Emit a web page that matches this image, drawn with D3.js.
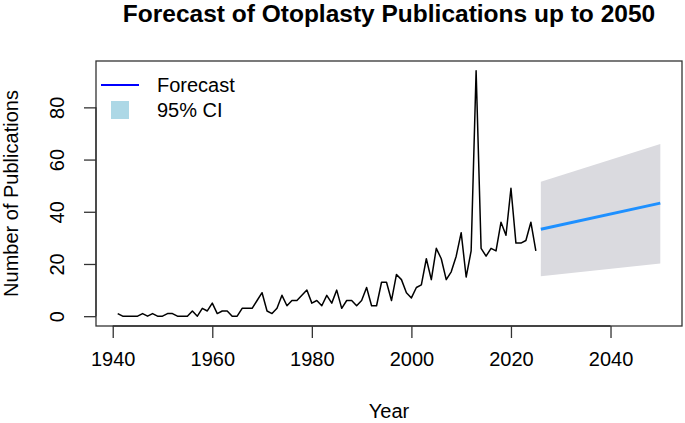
<!DOCTYPE html>
<html>
<head>
<meta charset="utf-8">
<script src="https://cdn.jsdelivr.net/npm/d3@7"></script>
<style>
  body { margin: 0; background: #fff; }
  svg text { font-family: "Liberation Sans", Arial, sans-serif; fill: #000; }
</style>
</head>
<body>
<div id="chart"></div>
<script>
// observed yearly counts
const years = d3.range(1941, 2026);
const counts = [
  1, 0, 0, 0, 0, 1, 0, 1, 0, 0,        // 1941-1950
  1, 1, 0, 0, 0, 2, 0, 3, 2, 5,        // 1951-1960
  1, 2, 2, 0, 0, 3, 3, 3, 6, 9,        // 1961-1970
  2, 1, 3, 8, 4, 6, 6, 8, 10, 5,       // 1971-1980
  6, 4, 8, 5, 10, 3, 6, 6, 4, 6,       // 1981-1990
  11, 4, 4, 13, 13, 6, 16, 14, 9, 7,   // 1991-2000
  11, 12, 22, 14, 26, 22, 14, 17, 23, 32, // 2001-2010
  15, 25, 94, 26, 23, 26, 25, 36, 31, 49, // 2011-2020
  28, 28, 29, 36, 25                   // 2021-2025
];

// forecast and 95% interval (straight lines in the picture)
const fcYears = [2026, 2050];
const fcMean = [33.3, 43.3];
const fcLower = [15.3, 20.2];
const fcUpper = [51.5, 66.0];

const xTicks = [1940, 1960, 1980, 2000, 2020, 2040];
const yTicks = [0, 20, 40, 60, 80];

const width = 685, height = 423;
const margin = { top: 61, right: 3, bottom: 97, left: 96 };
const fs = '20px';

const svg = d3.select('#chart')
  .append('svg')
  .attr('width', width)
  .attr('height', height);

const x = d3.scaleLinear()
  .domain([1936.64, 2054.36])
  .range([margin.left, width - margin.right]);

const y = d3.scaleLinear()
  .domain([-3.76, 97.76])
  .range([height - margin.bottom, margin.top]);

const obs = years.map((yr, i) => ({ yr, v: counts[i] }));
const fc = fcYears.map((yr, i) => ({ yr, m: fcMean[i], lo: fcLower[i], hi: fcUpper[i] }));

// CI band
svg.append('path')
  .datum(fc)
  .attr('fill', '#dadadf')
  .attr('d', d3.area().x(d => x(d.yr)).y0(d => y(d.lo)).y1(d => y(d.hi)));

// observed line
svg.append('path')
  .datum(obs)
  .attr('fill', 'none')
  .attr('stroke', '#000')
  .attr('stroke-width', 1.5)
  .attr('stroke-linejoin', 'round')
  .attr('d', d3.line().x(d => x(d.yr)).y(d => y(d.v)));

// forecast line
svg.append('path')
  .datum(fc)
  .attr('fill', 'none')
  .attr('stroke', '#1e90ff')
  .attr('stroke-width', 3)
  .attr('d', d3.line().x(d => x(d.yr)).y(d => y(d.m)));

// box
svg.append('rect')
  .attr('x', margin.left)
  .attr('y', margin.top)
  .attr('width', width - margin.left - margin.right)
  .attr('height', height - margin.top - margin.bottom)
  .attr('fill', 'none')
  .attr('stroke', '#333')
  .attr('stroke-width', 1.3);

// axes
const xAxis = d3.axisBottom(x).tickValues(xTicks).tickFormat(d3.format('d'))
  .tickSize(12).tickPadding(12);
const gx = svg.append('g')
  .attr('transform', `translate(0, ${height - margin.bottom})`)
  .call(xAxis);
gx.select('.domain').attr('d', `M${x(1940)},0H${x(2040)}`).attr('stroke', '#333').attr('stroke-width', 1.3);
gx.selectAll('.tick line').attr('stroke', '#333').attr('stroke-width', 1.3);
gx.selectAll('.tick text').style('font-size', fs).attr('y', 26);

const yAxis = d3.axisLeft(y).tickValues(yTicks).tickSize(12);
const gy = svg.append('g')
  .attr('transform', `translate(${margin.left}, 0)`)
  .call(yAxis);
gy.select('.domain').attr('d', `M0,${y(0)}V${y(80)}`).attr('stroke', '#333').attr('stroke-width', 1.3);
gy.selectAll('.tick line').attr('stroke', '#333').attr('stroke-width', 1.3);
gy.selectAll('.tick text')
  .style('font-size', fs)
  .attr('x', 0).attr('dy', 0)
  .attr('text-anchor', 'middle')
  .attr('transform', 'translate(-32,0) rotate(-90)');

// titles
svg.append('text')
  .attr('x', x(1995.5))
  .attr('y', 22)
  .attr('text-anchor', 'middle')
  .style('font-size', '24.5px')
  .style('font-weight', 'bold')
  .text('Forecast of Otoplasty Publications up to 2050');

svg.append('text')
  .attr('x', x(1995.5))
  .attr('y', 418)
  .attr('text-anchor', 'middle')
  .style('font-size', fs)
  .text('Year');

svg.append('text')
  .attr('transform', `translate(18, ${(margin.top + height - margin.bottom) / 2}) rotate(-90)`)
  .attr('text-anchor', 'middle')
  .style('font-size', fs)
  .text('Number of Publications');

// legend
const lg = svg.append('g');
lg.append('line')
  .attr('x1', 101).attr('x2', 139).attr('y1', 85).attr('y2', 85)
  .attr('stroke', '#0000ff').attr('stroke-width', 2);
lg.append('rect')
  .attr('x', 111).attr('y', 101).attr('width', 18).attr('height', 18)
  .attr('fill', '#add8e6');
lg.append('text').attr('x', 157).attr('y', 85).attr('dy', '0.35em')
  .style('font-size', fs).text('Forecast');
lg.append('text').attr('x', 157).attr('y', 110).attr('dy', '0.35em')
  .style('font-size', fs).text('95% CI');
</script>
</body>
</html>
